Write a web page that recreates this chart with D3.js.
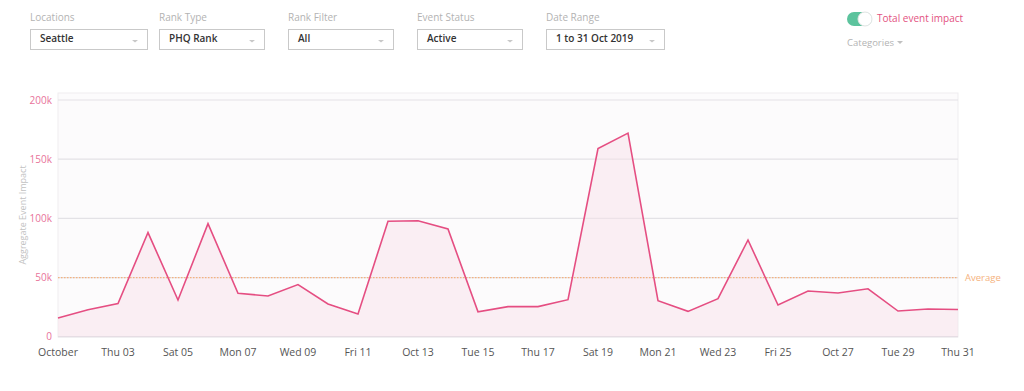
<!DOCTYPE html>
<html><head><meta charset="utf-8">
<script src="https://cdn.jsdelivr.net/npm/d3@7"></script>
<style>
html,body{margin:0;padding:0;background:#fff;}
svg{display:block;font-family:"Open Sans",sans-serif;}
</style></head>
<body>
<svg id="c" width="1024" height="391"></svg>
<script>
// ---- data ----
const days = d3.range(1, 32);
const impact = [15.8, 22.8, 28, 88, 31, 95.5, 36.7, 34.4, 44, 27.6, 19.2, 97.5, 98, 91, 21, 25.4, 25.4, 31.3, 159, 172, 30.4, 21.4, 32.1, 81.7, 26.8, 38.6, 36.9, 40.5, 21.7, 23.4, 23];
const average = 50;
const tickDays = [1, 3, 5, 7, 9, 11, 13, 15, 17, 19, 21, 23, 25, 27, 29, 31];
const tickLabels = ["October", "Thu 03", "Sat 05", "Mon 07", "Wed 09", "Fri 11", "Oct 13", "Tue 15", "Thu 17", "Sat 19", "Mon 21", "Wed 23", "Fri 25", "Oct 27", "Tue 29", "Thu 31"];
const yTicks = [0, 50, 100, 150, 200];
const filterLabels = ["Locations", "Rank Type", "Rank Filter", "Event Status", "Date Range"];
const filterValues = ["Seattle", "PHQ Rank", "All", "Active", "1 to 31 Oct 2019"];

const svg = d3.select("#c");

// ---- top controls ----
const boxes = [{x:30,w:117},{x:159,w:105},{x:288,w:105},{x:417,w:105},{x:546,w:118}];
boxes.forEach((b,i)=>{
  const g = svg.append("g");
  g.append("text").attr("x",b.x).attr("y",21).attr("font-size",10).attr("fill","#b3b3b3").text(filterLabels[i]);
  g.append("rect").attr("x",b.x+0.5).attr("y",29.5).attr("width",b.w).attr("height",20)
    .attr("fill","#fff").attr("stroke","#c9c9c9");
  g.append("text").attr("x",b.x+10).attr("y",42).attr("font-size",10).attr("font-weight",600).attr("fill","#333").text(filterValues[i]);
  g.append("path").attr("d",`M${b.x+b.w-15},${40} l3,2.5 l3,-2.5 z`).attr("fill","#c8c8c8");
});
// toggle
svg.append("rect").attr("x",847).attr("y",12).attr("width",25).attr("height",14).attr("rx",7).attr("fill","#5cc39d");
svg.append("circle").attr("cx",865).attr("cy",19).attr("r",7).attr("fill","#fff").attr("stroke","#e6e6e6");
svg.append("text").attr("x",877).attr("y",22).attr("font-size",10).attr("fill","#e3527f").text("Total event impact");
svg.append("text").attr("x",847).attr("y",46).attr("font-size",9.5).attr("fill","#b3b3b3").text("Categories");
svg.append("path").attr("d","M897,41 l3,3 l3,-3 z").attr("fill","#c0c0c0");

// ---- chart ----
const x = d3.scaleLinear().domain([1,31]).range([58,958]);
const y = d3.scaleLinear().domain([0,200]).range([336.7,100]);

svg.append("rect").attr("x",58).attr("y",93).attr("width",900).attr("height",244)
  .attr("fill","#fcfbfc").attr("stroke","#efedf0");

svg.append("g").selectAll("line").data(yTicks).join("line")
  .attr("x1",58).attr("x2",958).attr("y1",d=>y(d)).attr("y2",d=>y(d))
  .attr("stroke",d=>d===0?"#dcdbe0":"#e3e2e6").attr("stroke-width",1.2);

svg.append("g").selectAll("text").data(yTicks).join("text")
  .attr("x",52).attr("y",d=>y(d)+3.5).attr("text-anchor","end").attr("font-size",10)
  .attr("fill","#e8729a").text(d=>d===0?"0":d+"k");

svg.append("text").attr("transform","translate(26,215) rotate(-90)").attr("text-anchor","middle")
  .attr("font-size",9).attr("fill","#c2c2c2").text("Aggregate Event Impact");

const pts = days.map((d,i)=>[d,impact[i]]);
svg.append("path").datum(pts)
  .attr("d",d3.area().x(d=>x(d[0])).y0(y(0)).y1(d=>y(d[1])))
  .attr("fill","#f7e1ea").attr("opacity",0.5);

svg.append("line").attr("x1",58).attr("x2",958).attr("y1",y(average)).attr("y2",y(average))
  .attr("stroke","#f5b27e").attr("stroke-width",1.2).attr("stroke-dasharray","1.5,1.5");
svg.append("text").attr("x",965).attr("y",y(average)+3.5).attr("font-size",9.5).attr("fill","#f5b27e").text("Average");

svg.append("path").datum(pts)
  .attr("d",d3.line().x(d=>x(d[0])).y(d=>y(d[1])))
  .attr("fill","none").attr("stroke","#e54e82").attr("stroke-width",1.6).attr("stroke-linejoin","miter");

svg.append("g").selectAll("text").data(tickDays).join("text")
  .attr("x",d=>x(d)).attr("y",356).attr("text-anchor","middle").attr("font-size",10.5)
  .attr("fill","#555").text((d,i)=>tickLabels[i]);
</script>
</body></html>
